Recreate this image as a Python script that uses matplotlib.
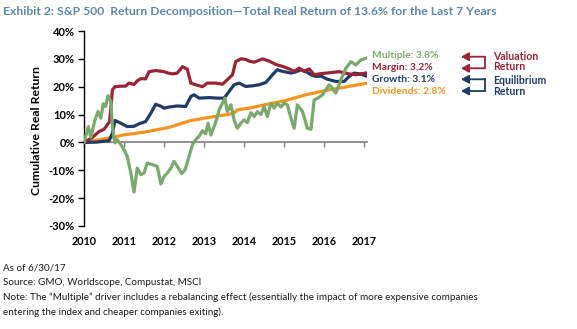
import matplotlib
matplotlib.use("Agg")
import matplotlib.pyplot as plt
from matplotlib.lines import Line2D
from matplotlib.ticker import FuncFormatter

W, H = 577, 329

# Cumulative real return components (percent), by fractional year
multiple_t = [2010.0, 2010.11, 2010.17, 2010.275, 2010.35, 2010.42, 2010.48, 2010.54, 2010.6, 2010.67,
              2010.71, 2010.775, 2010.83, 2010.92, 2011.0, 2011.08, 2011.17, 2011.25, 2011.33, 2011.42,
              2011.5, 2011.58, 2011.71, 2011.83, 2011.92, 2012.0, 2012.08, 2012.17, 2012.25, 2012.33,
              2012.44, 2012.525, 2012.625, 2012.71, 2012.79, 2012.875, 2012.96, 2013.04, 2013.1, 2013.17,
              2013.25, 2013.31, 2013.375, 2013.46, 2013.52, 2013.58, 2013.67, 2013.75, 2013.83, 2013.92,
              2014.0, 2014.08, 2014.17, 2014.25, 2014.33, 2014.42, 2014.5, 2014.58, 2014.67, 2014.75,
              2014.83, 2014.92, 2015.0, 2015.08, 2015.17, 2015.25, 2015.33, 2015.46, 2015.58, 2015.67,
              2015.75, 2015.83, 2015.96, 2016.04, 2016.125, 2016.17, 2016.29, 2016.42, 2016.54, 2016.67,
              2016.79, 2016.92, 2017.04]
multiple_v = [0.0, 5.7, 1.9, 8.1, 11.1, 8.7, 13.9, 12.9, 16.8, 14.7,
              5.7, -0.2, 1.0, -0.8, -2.6, -5.0, -11.0, -17.8, -9.2, -11.6,
              -11.0, -7.4, -8.0, -8.6, -14.9, -12.2, -11.0, -9.2, -6.8, -8.6,
              -11.2, -9.8, -5.0, -0.8, 1.0, 2.2, 4.2, 3.1, 6.9, 2.7,
              5.7, 8.1, 11.7, 14.1, 15.9, 11.1, 13.5, 8.1, 5.1, 6.9,
              8.1, 7.1, 10.7, 9.3, 11.0, 10.0, 12.9, 9.3, 14.1, 12.3,
              14.1, 12.7, 14.1, 13.5, 8.7, 5.1, 13.5, 11.1, 5.1, 4.7,
              15.3, 15.8, 17.1, 18.9, 20.7, 20.1, 17.7, 22.5, 26.6, 29.0,
              27.8, 29.6, 30.2]

margin_t = [2010.0, 2010.21, 2010.375, 2010.5, 2010.64, 2010.71, 2010.775, 2010.92, 2011.04, 2011.125,
            2011.25, 2011.33, 2011.42, 2011.54, 2011.625, 2011.79, 2012.0, 2012.1, 2012.21, 2012.33,
            2012.46, 2012.58, 2012.67, 2012.79, 2012.96, 2013.08, 2013.29, 2013.46, 2013.58, 2013.71,
            2013.79, 2013.92, 2014.04, 2014.125, 2014.25, 2014.46, 2014.625, 2014.79, 2014.96, 2015.125,
            2015.25, 2015.375, 2015.5, 2015.625, 2015.75, 2015.92, 2016.125, 2016.375, 2016.625, 2016.79,
            2017.04]
margin_v = [0.0, 1.8, 3.9, 4.7, 7.5, 18.9, 20.0, 20.2, 20.2, 21.3,
            20.8, 22.1, 22.9, 22.8, 25.4, 25.8, 25.4, 24.9, 24.6, 24.9,
            27.2, 26.3, 21.3, 20.7, 20.0, 21.3, 21.3, 20.9, 22.5, 24.3,
            29.0, 30.0, 29.8, 29.2, 28.8, 30.0, 29.2, 28.0, 27.3, 26.4,
            25.5, 26.7, 25.5, 26.4, 24.3, 24.7, 25.0, 25.4, 24.6, 24.3,
            24.9]

growth_t = [2010.0, 2010.3, 2010.625, 2010.71, 2010.775, 2010.92, 2011.08, 2011.25, 2011.375, 2011.54,
            2011.67, 2011.79, 2011.92, 2012.0, 2012.125, 2012.33, 2012.54, 2012.67, 2012.75, 2012.875,
            2013.0, 2013.125, 2013.33, 2013.5, 2013.625, 2013.75, 2013.875, 2014.04, 2014.2, 2014.375,
            2014.54, 2014.71, 2014.83, 2014.96, 2015.17, 2015.29, 2015.42, 2015.54, 2015.67, 2015.79,
            2015.92, 2016.08, 2016.29, 2016.5, 2016.625, 2016.75, 2016.92, 2017.04]
growth_v = [0.0, 0.1, 0.6, 3.3, 7.9, 6.9, 5.7, 5.8, 6.7, 7.5,
            10.5, 13.7, 13.0, 12.3, 12.7, 13.1, 12.9, 16.5, 17.1, 15.9,
            16.0, 16.1, 15.9, 15.9, 18.3, 20.7, 21.3, 20.1, 20.3, 20.7,
            21.5, 24.3, 26.1, 25.5, 24.9, 25.3, 26.1, 25.5, 24.3, 23.7,
            23.8, 22.7, 21.9, 21.9, 23.7, 24.9, 24.5, 23.9]

dividends_t = [2010.0, 2010.35, 2010.7, 2011.0, 2011.5, 2011.875, 2012.125, 2012.625, 2013.0, 2013.54,
               2013.75, 2013.83, 2014.125, 2014.71, 2015.0, 2015.54, 2016.125, 2016.5, 2017.04]
dividends_v = [0.0, 0.9, 1.8, 2.7, 3.7, 4.7, 5.4, 7.7, 8.7, 9.9,
               10.5, 11.7, 12.3, 14.1, 14.9, 17.1, 18.9, 19.8, 21.2]

years = [2010, 2011, 2012, 2013, 2014, 2015, 2016, 2017]
y_ticks = [40, 30, 20, 10, 0, -10, -20, -30]

series_labels = ["Multiple: 3.8%", "Margin: 3.2%", "Growth: 3.1%", "Dividends: 2.8%"]

C_MULT = "#79a96b"
C_MARG = "#9b2335"
C_GROW = "#1f3b66"
C_DIV = "#f7941d"
C_TITLE = "#5a87ab"

plt.rcParams['font.family'] = ['Lato', 'DejaVu Sans']

fig = plt.figure(figsize=(W / 100, H / 100), dpi=100)


def fx(x):
    return x / W


def fy(y):
    return 1 - y / H


ax = fig.add_axes([fx(84), fy(226), fx(367) - fx(84), fy(31) - fy(226)])

ax.plot(dividends_t, dividends_v, color=C_DIV, lw=2.3, solid_joinstyle='round', zorder=2)
ax.plot(growth_t, growth_v, color=C_GROW, lw=2.3, solid_joinstyle='round', zorder=3)
ax.plot(margin_t, margin_v, color=C_MARG, lw=2.3, solid_joinstyle='round', zorder=4)
ax.plot(multiple_t, multiple_v, color=C_MULT, lw=2.3, solid_joinstyle='round', zorder=5)

ax.set_xlim(2010, 2017.07)
ax.set_ylim(-30, 40)
ax.set_yticks(y_ticks)
ax.yaxis.set_major_formatter(FuncFormatter(lambda v, p: f"{v:.0f}%"))
ax.set_xticks(years)
ax.set_xticklabels([str(y) for y in years])

for s in ['top', 'right']:
    ax.spines[s].set_visible(False)
ax.spines['left'].set_color('black')
ax.spines['left'].set_linewidth(1.0)
ax.spines['bottom'].set_position(('data', 0))
ax.spines['bottom'].set_color('#7f7f7f')
ax.spines['bottom'].set_linewidth(1.2)
ax.spines['bottom'].set_zorder(1)

ax.tick_params(axis='y', direction='out', length=4, width=1.0, color='black',
               labelsize=8.0, pad=2.5)
ax.tick_params(axis='x', direction='out', length=3.5, width=1.0, color='#7f7f7f',
               labelsize=7.8, pad=64)
for lab in ax.get_yticklabels() + ax.get_xticklabels():
    lab.set_fontweight('bold')

ax.set_ylabel("Cumulative Real Return", fontsize=8.8, fontweight='bold')
ax.yaxis.set_label_coords(-0.148, 0.49)

# Title
fig.text(fx(3), fy(11.5), "Exhibit 2: S&P 500  Return Decomposition\u2014Total Real Return of 13.6% for the Last 7 Years",
         fontsize=8.75, fontweight='bold', color=C_TITLE, ha='left', va='center')

# End-of-line component labels
label_y = [56, 68, 80, 91.5]
label_c = [C_MULT, C_MARG, C_GROW, C_DIV]
for txt, yy, cc in zip(series_labels, label_y, label_c):
    fig.text(fx(372), fy(yy), txt, fontsize=7.4, fontweight='bold', color=cc,
             ha='left', va='center')


# Bracket arrows grouping the components
def bracket(y1, y2, color):
    xr, xl = 485, 461
    fig.add_artist(Line2D([fx(xr), fx(xr)], [fy(y1), fy(y2)], color=color, lw=1.3,
                          transform=fig.transFigure, solid_capstyle='projecting'))
    for yy in (y1, y2):
        fig.add_artist(plt.Annotation("", xy=(fx(xl), fy(yy)), xytext=(fx(xr), fy(yy)),
                                      xycoords='figure fraction', textcoords='figure fraction',
                                      arrowprops=dict(arrowstyle='-|>,head_length=0.45,head_width=0.25',
                                                      color=color, lw=1.3, shrinkA=0, shrinkB=0)))


bracket(56.7, 68.3, C_MARG)
bracket(79.3, 91.0, C_GROW)

fig.text(fx(493), fy(56), "Valuation", fontsize=7.6, fontweight='bold', color=C_MARG, ha='left', va='center')
fig.text(fx(493), fy(66), "Return", fontsize=7.6, fontweight='bold', color=C_MARG, ha='left', va='center')
fig.text(fx(493), fy(80), "Equilibrium", fontsize=7.6, fontweight='bold', color=C_GROW, ha='left', va='center')
fig.text(fx(493), fy(91), "Return", fontsize=7.6, fontweight='bold', color=C_GROW, ha='left', va='center')

# Footnotes
notes = [
    "As of 6/30/17",
    "Source: GMO, Worldscope, Compustat, MSCI",
    "Note: The \u201cMultiple\u201d driver includes a rebalancing effect (essentially the impact of more expensive companies",
    "entering the index and cheaper companies exiting).",
]
for i, line in enumerate(notes):
    fig.text(fx(3), fy(268 + 14.7 * i), line, fontsize=7.1, color='#1a1a1a', ha='left', va='center')

fig.savefig("out.png", dpi=100)
